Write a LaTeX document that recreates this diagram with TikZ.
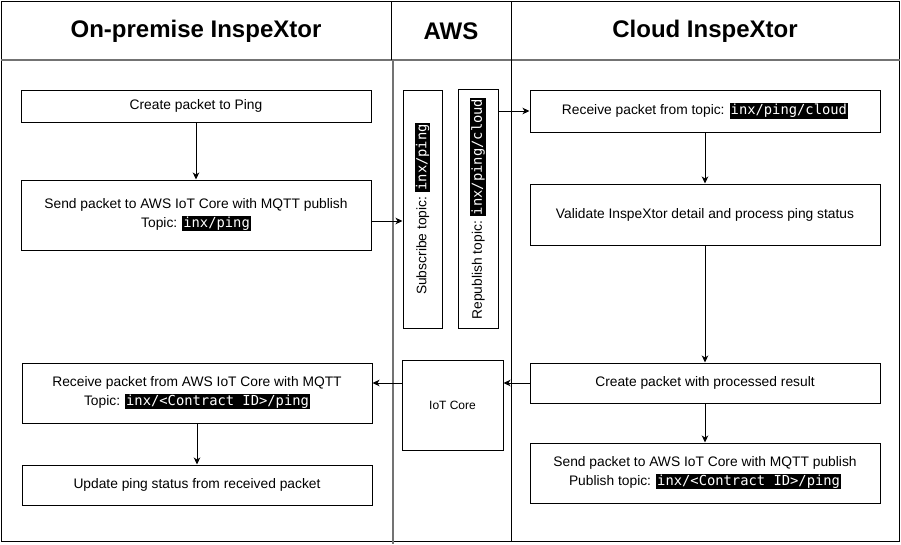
\documentclass[tikz,border=0pt]{standalone}
\usepackage{fontspec}
\setmainfont{Liberation Sans}
\setmonofont{DejaVu Sans Mono}
\usetikzlibrary{arrows.meta,calc}
\newcommand{\hlt}[1]{{\setlength{\fboxsep}{1pt}\colorbox{black}{\textcolor{white}{\ttfamily\vphantom{lg}#1}}}}
\begin{document}
\begin{tikzpicture}[x=1pt,y=-1pt,
  box/.style={draw, line width=1pt, align=center, inner sep=0pt,
    font=\fontsize{13.8}{18.5}\selectfont},
  vbox/.style={box, rotate=90},
  head/.style={font=\fontsize{24}{28}\selectfont\bfseries},
  arr/.style={line width=1pt, -{Stealth[length=7pt,width=6.5pt,inset=2pt]}},
  lane/.style={line width=1pt},
  sep/.style={line width=1.2pt, draw=black!55}]
\useasboundingbox (0,0) rectangle (901,544);
% lanes
\draw[lane] (1,1) rectangle (899.5,541);
\draw[sep] (1,60) -- (899.5,60);
\draw[lane] (391,1) -- (391,60);
\draw[lane] (511,1) -- (511,541);
\draw[sep] (393,60) -- (393,544);
% headers
\node[head] (h1) at (196,31) {On-premise InspeXtor};
\node[head] (h2) at (451,31) {AWS};
\node[head] (h3) at (705,31) {Cloud InspeXtor};
% left lane
\node[box, minimum width=350pt, minimum height=32pt] (create) at (196,106) {Create packet to Ping};
\node[box, minimum width=350pt, minimum height=70pt] (send) at (196,215) {Send packet to AWS IoT Core with MQTT publish\\Topic: \hlt{inx/ping}};
\node[box, minimum width=350pt, minimum height=60pt] (rcvl) at (197,393) {Receive packet from AWS IoT Core with MQTT\\Topic: \hlt{inx/<Contract ID>/ping}};
\node[box, minimum width=350pt, minimum height=40pt] (upd) at (197,485) {Update ping status from received packet};
% AWS lane
\node[vbox, minimum width=238pt, minimum height=39pt] (sub) at (422.5,209) {Subscribe topic: \hlt{inx/ping}};
\node[vbox, minimum width=239pt, minimum height=40pt] (rep) at (478,208.5) {Republish topic: \hlt{inx/ping/cloud}};
\node[box, minimum width=101pt, minimum height=90pt, font=\fontsize{12}{14}\selectfont] (iot) at (452.5,405) {IoT Core};
% right lane
\node[box, minimum width=350pt, minimum height=42pt] (rcvr) at (705,111) {Receive packet from topic: \hlt{inx/ping/cloud}};
\node[box, minimum width=350pt, minimum height=61pt] (val) at (705,214.5) {Validate InspeXtor detail and process ping status};
\node[box, minimum width=350pt, minimum height=40pt] (cp) at (705,383) {Create packet with processed result};
\node[box, minimum width=350pt, minimum height=60pt] (sendr) at (705,473) {Send packet to AWS IoT Core with MQTT publish\\Publish topic: \hlt{inx/<Contract ID>/ping}};
% connectors
\coordinate (s1) at ([yshift=-6pt]send.east);
\draw[arr] (create.south) -- (send.north);
\draw[arr] (s1) -- (sub.north |- s1);
\draw[arr] (rep.south |- rcvr.west) -- (rcvr.west);
\draw[arr] (rcvr.south) -- (val.north);
\draw[arr] (val.south) -- (cp.north);
\draw[arr] (cp.west) -- (iot.east |- cp.west);
\draw[arr] (iot.west |- cp.west) -- (rcvl.east |- cp.west);
\draw[arr] (cp.south) -- (sendr.north);
\draw[arr] (rcvl.south) -- (upd.north);
\end{tikzpicture}
\end{document}
